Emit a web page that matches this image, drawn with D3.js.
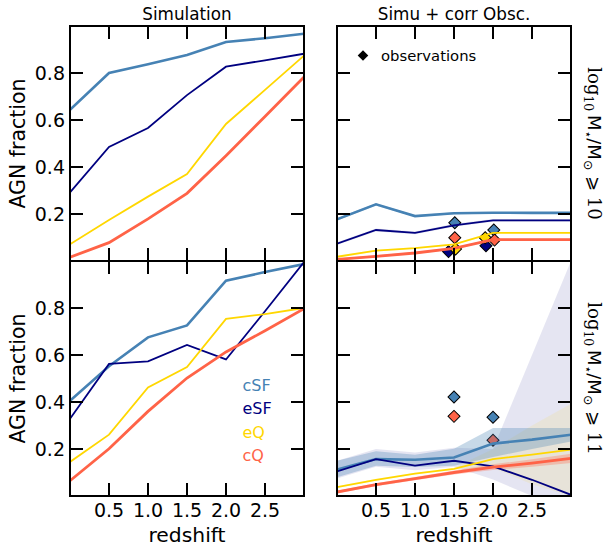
<!DOCTYPE html>
<html><head><meta charset="utf-8">
<script src="https://cdn.jsdelivr.net/npm/d3@7"></script>
<style>body{margin:0;background:#fff}svg{display:block}text{font-family:"DejaVu Sans",sans-serif}</style>
</head><body><svg id="c" width="605" height="551"></svg>
<script>
const redshift = [0, 0.5, 1.0, 1.5, 2.0, 2.5, 3.0];
const seriesNames = ["cSF", "eSF", "eQ", "cQ"];
const seriesColors = ["#4682b4", "#000080", "#ffd700", "#ff6347"];
const xTicks = [0.5, 1.0, 1.5, 2.0, 2.5];
const yTicks = [0.2, 0.4, 0.6, 0.8];
const panelTitles = ["Simulation", "Simu + corr Obsc."];
const massLabels = ["10", "11"];

// Simulation, log M >= 10
const simM10_cSF = [0.643, 0.800, 0.837, 0.877, 0.932, 0.948, 0.967];
const simM10_eSF = [0.292, 0.485, 0.566, 0.706, 0.827, 0.854, 0.882];
const simM10_eQ  = [0.071, 0.174, 0.274, 0.370, 0.583, 0.728, 0.874];
const simM10_cQ  = [0.016, 0.078, 0.179, 0.288, 0.448, 0.615, 0.783];
// Simulation, log M >= 11
const simM11_cSF = [0.405, 0.552, 0.675, 0.726, 0.916, 0.953, 0.987];
const simM11_eSF = [0.329, 0.562, 0.573, 0.643, 0.581, 0.786, 0.996];
const simM11_eQ  = [0.145, 0.261, 0.462, 0.549, 0.754, 0.774, 0.800];
const simM11_cQ  = [0.065, 0.201, 0.360, 0.502, 0.613, 0.703, 0.797];
// Simu + corr Obsc., log M >= 10
const corM10_cSF = [0.177, 0.241, 0.191, 0.203, 0.205, 0.205, 0.205];
const corM10_eSF = [0.074, 0.132, 0.120, 0.152, 0.173, 0.173, 0.173];
const corM10_eQ  = [0.018, 0.044, 0.055, 0.071, 0.120, 0.120, 0.120];
const corM10_cQ  = [0.007, 0.020, 0.034, 0.054, 0.091, 0.091, 0.091];
const corM10_lo = [[0.172,0.236,0.187,0.199,0.201,0.201,0.201],[0.068,0.126,0.114,0.146,0.167,0.167,0.167],[0.014,0.040,0.051,0.067,0.116,0.116,0.116],[0.003,0.016,0.030,0.050,0.087,0.087,0.087]];
const corM10_hi = [[0.182,0.246,0.195,0.207,0.209,0.209,0.209],[0.080,0.138,0.126,0.158,0.179,0.179,0.179],[0.022,0.048,0.059,0.075,0.124,0.124,0.124],[0.011,0.024,0.038,0.058,0.095,0.095,0.095]];
// Simu + corr Obsc., log M >= 11
const corM11_cSF = [0.112, 0.157, 0.154, 0.164, 0.223, 0.240, 0.261];
const corM11_eSF = [0.105, 0.157, 0.129, 0.150, 0.126, 0.069, 0.005];
const corM11_eQ  = [0.038, 0.069, 0.095, 0.115, 0.157, 0.176, 0.197];
const corM11_cQ  = [0.017, 0.048, 0.074, 0.100, 0.123, 0.140, 0.160];
const corM11_lo = [[0.080,0.129,0.123,0.129,0.166,0.200,0.232],[0.075,0.125,0.110,0.125,0.070,0.000,0.000],[0.034,0.065,0.091,0.110,0.120,0.050,0.000],[0.012,0.042,0.067,0.092,0.111,0.124,0.140]];
const corM11_hi = [[0.150,0.190,0.176,0.201,0.289,0.289,0.289],[0.150,0.200,0.185,0.205,0.200,0.600,1.000],[0.042,0.073,0.099,0.120,0.200,0.300,0.393],[0.022,0.054,0.081,0.108,0.135,0.156,0.180]];
const bandOpacity = [0.3, 0.1, 0.1, 0.3];

// observations: [seriesIndex, redshift, fraction]
const obsM10 = [[0,1.51,0.163],[0,2.01,0.132],[1,1.43,0.040],[1,1.91,0.065],[2,1.52,0.051],[2,1.90,0.099],[3,1.51,0.099],[3,2.02,0.089]];
const obsM11 = [[0,1.50,0.421],[0,2.00,0.335],[3,1.50,0.339],[3,2.00,0.237]];

const lineWidths = [2.6, 1.8, 1.8, 2.8];

const svg = d3.select("#c");
const panelsX = [[70, 304], [337, 571]];
const panelsY = [[26, 261], [261, 496]];

const data = {
  "0,0": [simM10_cSF, simM10_eSF, simM10_eQ, simM10_cQ],
  "0,1": [simM11_cSF, simM11_eSF, simM11_eQ, simM11_cQ],
  "1,0": [corM10_cSF, corM10_eSF, corM10_eQ, corM10_cQ],
  "1,1": [corM11_cSF, corM11_eSF, corM11_eQ, corM11_cQ]
};
const bands = {"1,0": [corM10_lo, corM10_hi], "1,1": [corM11_lo, corM11_hi]};
const obs = {"1,0": obsM10, "1,1": obsM11};

for (let col = 0; col < 2; col++) {
  for (let row = 0; row < 2; row++) {
    const key = col + "," + row;
    const x = d3.scaleLinear().domain([0, 3]).range(panelsX[col]);
    const y = d3.scaleLinear().domain([0, 1]).range([panelsY[row][1], panelsY[row][0]]);
    const g = svg.append("g");
    const cid = "clip" + col + row;
    svg.append("clipPath").attr("id", cid).append("rect")
      .attr("x", panelsX[col][0]).attr("y", panelsY[row][0])
      .attr("width", panelsX[col][1]-panelsX[col][0]).attr("height", panelsY[row][1]-panelsY[row][0]);
    const plot = g.append("g").attr("clip-path", "url(#" + cid + ")");

    const series = data[key];
    const line = d3.line().x((d, i) => x(redshift[i])).y(d => y(d));

    if (obs[key]) {
      const sq = d3.symbol().type(d3.symbolSquare).size(72);
      plot.selectAll(null).data(obs[key]).enter().append("path")
        .attr("d", sq)
        .attr("transform", d => `translate(${x(d[1])},${y(d[2])}) rotate(45)`)
        .attr("fill", d => seriesColors[d[0]])
        .attr("stroke", "#000").attr("stroke-width", 1);
    }
    if (bands[key]) {
      const [lo, hi] = bands[key];
      const order = row === 1 ? [1, 2, 3, 0] : [0, 1, 2, 3];
      order.forEach(s => {
        const area = d3.area().x((d, i) => x(redshift[i])).y0((d, i) => y(lo[s][i])).y1((d, i) => y(hi[s][i]));
        plot.append("path").attr("d", area(lo[s])).attr("fill", seriesColors[s]).attr("fill-opacity", bandOpacity[s]);
      });
    }
    series.forEach((vals, s) => {
      plot.append("path").attr("d", line(vals)).attr("fill", "none")
        .attr("stroke", seriesColors[s]).attr("stroke-width", lineWidths[s]);
    });

    // ticks inward
    const tl = 13;
    const tg = g.append("g").attr("stroke", "#000").attr("stroke-width", 2);
    xTicks.forEach(t => {
      tg.append("line").attr("x1", x(t)).attr("x2", x(t)).attr("y1", panelsY[row][1]).attr("y2", panelsY[row][1] - tl);
      tg.append("line").attr("x1", x(t)).attr("x2", x(t)).attr("y1", panelsY[row][0]).attr("y2", panelsY[row][0] + tl);
    });
    yTicks.forEach(t => {
      tg.append("line").attr("x1", panelsX[col][0]).attr("x2", panelsX[col][0] + tl).attr("y1", y(t)).attr("y2", y(t));
      tg.append("line").attr("x1", panelsX[col][1]).attr("x2", panelsX[col][1] - tl).attr("y1", y(t)).attr("y2", y(t));
    });
    g.append("rect").attr("x", panelsX[col][0]).attr("y", panelsY[row][0])
      .attr("width", panelsX[col][1]-panelsX[col][0]).attr("height", panelsY[row][1]-panelsY[row][0])
      .attr("fill", "none").attr("stroke", "#000").attr("stroke-width", 2);

    if (col === 0) {
      yTicks.forEach(t => {
        g.append("text").attr("x", panelsX[0][0] - 5).attr("y", y(t)).attr("dy", "0.36em")
          .attr("text-anchor", "end").attr("font-size", 19).text(t.toFixed(1));
      });
      g.append("text").attr("transform", `translate(25,${(panelsY[row][0]+panelsY[row][1])/2}) rotate(-90)`)
        .attr("text-anchor", "middle").attr("font-size", 20.5).text("AGN fraction");
    }
    if (row === 1) {
      xTicks.forEach(t => {
        g.append("text").attr("x", x(t)).attr("y", 517).attr("text-anchor", "middle")
          .attr("font-size", 19).text(t.toFixed(1));
      });
      g.append("text").attr("x", (panelsX[col][0]+panelsX[col][1])/2).attr("y", 542)
        .attr("text-anchor", "middle").attr("font-size", 20.3).text("redshift");
    }
    if (row === 0) {
      g.append("text").attr("x", (panelsX[col][0]+panelsX[col][1])/2).attr("y", 20)
        .attr("text-anchor", "middle").attr("font-size", 16.8).text(panelTitles[col]);
    }
    if (col === 1) {
      const cy = (panelsY[row][0]+panelsY[row][1])/2;
      const t = g.append("text").attr("transform", `translate(588,${cy}) rotate(90)`)
        .attr("text-anchor", "middle").attr("font-size", 18);
      t.append("tspan").attr("font-family", "DejaVu Serif").text("log");
      t.append("tspan").attr("font-family", "DejaVu Serif").attr("font-size", 12.5).attr("dy", 4).text("10");
      t.append("tspan").attr("dy", -4).text("\u2009M");
      t.append("tspan").attr("font-size", 12.5).attr("dy", 4).text("\u22c6");
      t.append("tspan").attr("dy", -4).text("/M");
      t.append("tspan").attr("font-size", 12.5).attr("dy", 4).text("\u2299");
      t.append("tspan").attr("dy", -4).attr("font-family", "DejaVu Serif").text(" \u2a7e " + massLabels[row]);
    }
  }
}

// legend: observations
svg.append("path").attr("d", d3.symbol().type(d3.symbolSquare).size(56)())
  .attr("transform", "translate(363,55.5) rotate(45)").attr("fill", "#000");
svg.append("text").attr("x", 381).attr("y", 61).attr("font-size", 14.8).text("observations");

// legend: series names
seriesNames.forEach((n, i) => {
  svg.append("text").attr("x", 242.5).attr("y", 391 + i * 23.3).attr("font-size", 16)
    .attr("fill", seriesColors[i]).text(n);
});
</script></body></html>
